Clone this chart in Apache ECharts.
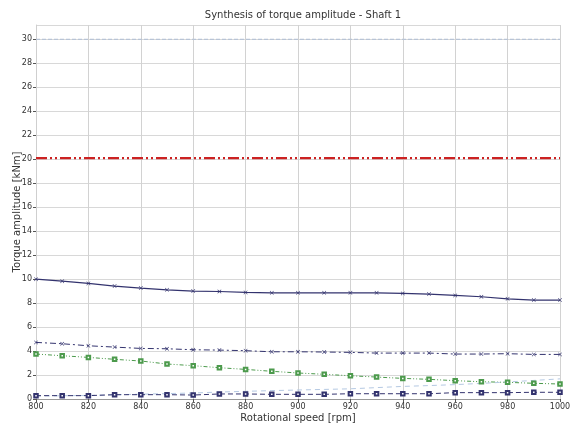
<!DOCTYPE html>
<html lang="en">
<head>
<meta charset="UTF-8">
<title>Synthesis of torque amplitude - Shaft 1</title>
<script src="https://cdn.jsdelivr.net/npm/echarts@6/dist/echarts.min.js"></script>
<style>
    html,body{margin:0;padding:0;background:#fff;}
    #chart{width:573px;height:423px;}
</style>
</head>
<body>
<div id="chart"></div>
<script>
// rotational speed [rpm]
var rpm = [800,810,820,830,840,850,860,870,880,890,900,910,920,930,940,950,960,970,980,990,1000];

// torque amplitude [kNm]
var limitHigh = [30,30,30,30,30,30,30,30,30,30,30,30,30,30,30,30,30,30,30,30,30];
var limitRed = [20.1,20.1,20.1,20.1,20.1,20.1,20.1,20.1,20.1,20.1,20.1,20.1,20.1,20.1,20.1,20.1,20.1,20.1,20.1,20.1,20.1];
var total = [10.0,9.83,9.64,9.42,9.25,9.11,9.0,8.97,8.89,8.86,8.86,8.86,8.86,8.86,8.81,8.75,8.64,8.53,8.36,8.25,8.25];
var order1 = [4.72,4.61,4.44,4.33,4.22,4.19,4.11,4.08,4.03,3.94,3.94,3.92,3.89,3.83,3.83,3.83,3.75,3.75,3.78,3.72,3.72];
var order2 = [3.75,3.61,3.47,3.31,3.17,2.92,2.78,2.61,2.47,2.31,2.17,2.06,1.94,1.83,1.72,1.64,1.53,1.44,1.39,1.31,1.25];
var order3 = [0.28,0.28,0.28,0.36,0.36,0.36,0.33,0.42,0.42,0.39,0.39,0.39,0.44,0.44,0.44,0.44,0.53,0.53,0.53,0.56,0.56];
var order4 = [0.25,0.27,0.3,0.35,0.4,0.45,0.5,0.58,0.64,0.7,0.75,0.8,0.85,0.95,1.05,1.12,1.2,1.3,1.42,1.55,1.68];

function pairs(ys){
    return rpm.map(function(x,i){ return [x, ys[i]]; });
}

var crossSym = 'path://M0,1L1,0L5,4L9,0L10,1L6,5L10,9L9,10L5,6L1,10L0,9L4,5Z';
var navy = '#33336e';
var font = 'DejaVu Sans';

var myChart = echarts.init(document.getElementById('chart'));
var option = {
    animation: false,
    title: {
        text: 'Synthesis of torque amplitude - Shaft 1',
        left: 298, top: 5, textAlign: 'center',
        textStyle: {fontFamily: font, fontSize: 10, fontWeight: 'normal', color: '#333'}
    },
    grid: {left: 36, right: 13, top: 25, bottom: 24, outerBoundsMode: 'none', containLabel: false},
    xAxis: {
        type: 'value', min: 800, max: 1000, interval: 20,
        name: 'Rotational speed [rpm]', nameLocation: 'middle', nameGap: 14, nameMoveOverlap: false,
        nameTextStyle: {fontFamily: font, fontSize: 10, color: '#333'},
        axisLine: {show: true, lineStyle: {color: '#999'}},
        axisTick: {show: true, length: 3, lineStyle: {color: '#555'}},
        axisLabel: {fontFamily: font, fontSize: 8, color: '#333', margin: 4,
                    formatter: function(v){ return String(v); }},
        splitLine: {show: true, lineStyle: {color: '#d2d2d2', width: 1}}
    },
    yAxis: {
        type: 'value', min: 0, max: 31.2, interval: 2,
        name: 'Torque amplitude [kNm]', nameLocation: 'middle', nameGap: 14, nameMoveOverlap: false,
        nameTextStyle: {fontFamily: font, fontSize: 10, color: '#333'},
        axisLine: {show: true, lineStyle: {color: '#cfcfcf'}},
        axisTick: {show: true, length: 3, lineStyle: {color: '#555'}},
        axisLabel: {fontFamily: font, fontSize: 8, color: '#333', margin: 4, showMaxLabel: false},
        splitLine: {show: true, lineStyle: {color: '#d8d8d8', width: 1}}
    },
    series: [
        {name: 'Limit 30', type: 'line', data: pairs(limitHigh), showSymbol: false,
         lineStyle: {color: '#b8c4d6', width: 1.2, type: [4, 2]}},
        {name: 'Limit 20', type: 'line', data: pairs(limitRed), showSymbol: false,
         lineStyle: {color: '#cc2222', width: 2.2, type: [11, 3, 2, 3, 2, 3]}},
        {name: 'Total', type: 'line', data: pairs(total), symbol: crossSym, symbolSize: 4,
         itemStyle: {color: navy}, lineStyle: {color: navy, width: 1.2}},
        {name: 'Order 1', type: 'line', data: pairs(order1), symbol: crossSym, symbolSize: 4,
         itemStyle: {color: navy}, lineStyle: {color: navy, width: 1, type: [6, 3, 2, 3]}},
        {name: 'Order 2', type: 'line', data: pairs(order2), symbol: 'emptyRect', symbolSize: 3.5,
         itemStyle: {color: '#4c9a4c', borderWidth: 0.8}, lineStyle: {color: '#4c9a4c', width: 1, type: [4, 2, 1, 2, 1, 2]}},
        {name: 'Order 4', type: 'line', data: pairs(order4), showSymbol: false,
         lineStyle: {color: '#b4c8e2', width: 1, type: [5, 4]}},
        {name: 'Order 3', type: 'line', data: pairs(order3), symbol: 'emptyRect', symbolSize: 3.5,
         itemStyle: {color: navy, borderWidth: 0.8}, lineStyle: {color: navy, width: 1, type: [5, 3]}}
    ]
};
myChart.setOption(option);
</script>
</body>
</html>
